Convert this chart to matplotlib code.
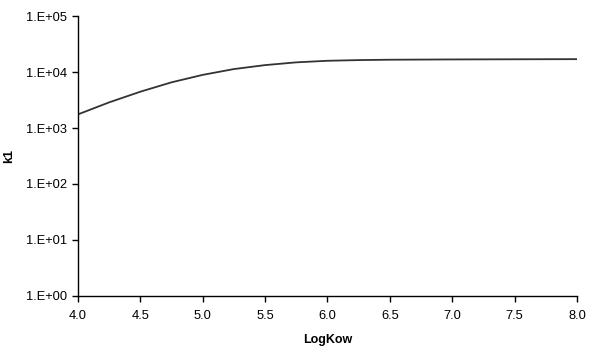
import matplotlib
matplotlib.use("Agg")
import matplotlib.pyplot as plt
from matplotlib.ticker import FixedLocator, FuncFormatter

logkow = [4.0, 4.25, 4.5, 4.75, 5.0, 5.25, 5.5, 5.75, 6.0, 6.25, 6.5, 7.0, 7.5, 8.0]
k1 = [1750, 2870, 4450, 6550, 8900, 11300, 13300, 14900, 15900, 16350, 16600, 16800, 16900, 17000]
xticks = [4.0, 4.5, 5.0, 5.5, 6.0, 6.5, 7.0, 7.5, 8.0]
yticks = [1, 10, 100, 1000, 10000, 100000]
ytick_labels = ["1.E+00", "1.E+01", "1.E+02", "1.E+03", "1.E+04", "1.E+05"]

plt.rcParams['font.family'] = ['Liberation Sans', 'DejaVu Sans']
fig = plt.figure(figsize=(5.9, 3.57), dpi=100)
ax = fig.add_axes([0.132, 0.171, 0.846, 0.784])
ax.plot(logkow, k1, color='#333333', lw=1.3)
ax.set_yscale('log')
ax.set_xlim(4.0, 8.0)
ax.set_ylim(1, 100000)
ax.xaxis.set_major_locator(FixedLocator(xticks))
ax.xaxis.set_major_formatter(FuncFormatter(lambda v, p: f"{v:.1f}"))
ax.yaxis.set_major_locator(FixedLocator(yticks))
ax.yaxis.set_minor_locator(FixedLocator([]))
ax.set_yticklabels(ytick_labels)
for s in ['top', 'right']:
    ax.spines[s].set_visible(False)
for s in ['left', 'bottom']:
    ax.spines[s].set_linewidth(1.0)
ax.tick_params(axis='both', direction='out', length=4, width=1.0, labelsize=9.3, colors='black')
ax.tick_params(axis='x', pad=6)
ax.set_xlabel('LogKow', fontsize=9, fontweight='bold', labelpad=9)
ax.set_ylabel('k1', fontsize=9, fontweight='bold', labelpad=8)
fig.savefig('out.png', dpi=100)
